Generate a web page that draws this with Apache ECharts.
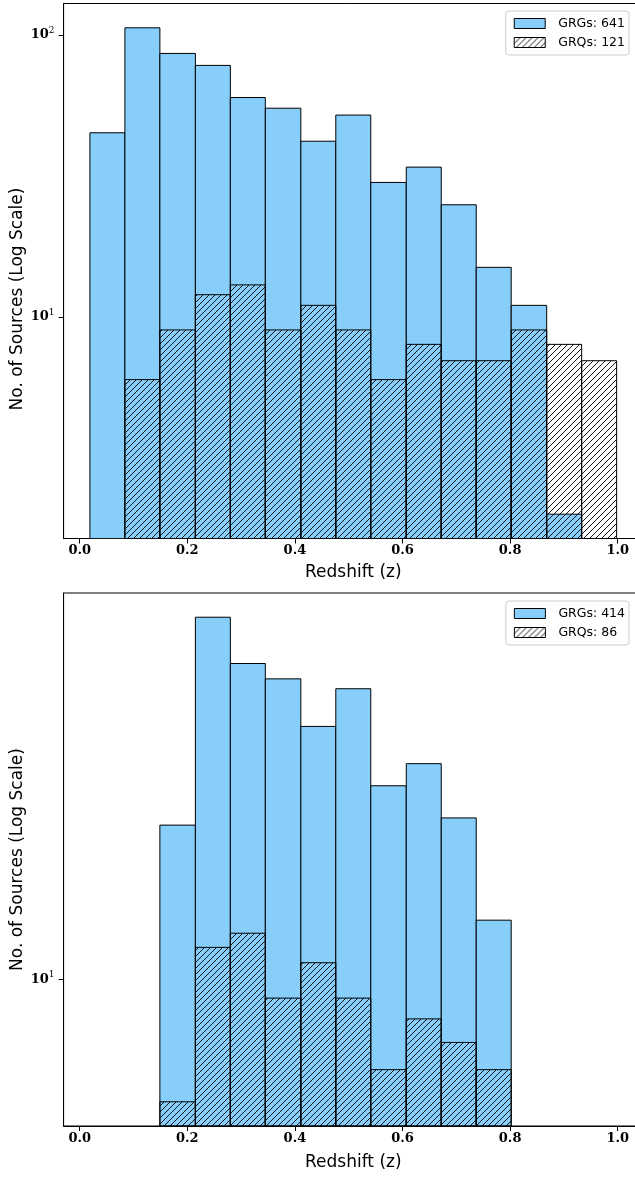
<!DOCTYPE html>
<html>
<head>
<meta charset="utf-8">
<script src="https://cdn.jsdelivr.net/npm/echarts@6/dist/echarts.min.js"></script>
<style>
  html, body { margin: 0; padding: 0; background: #fff; }
  #chart { width: 635px; height: 1178px; }
</style>
</head>
<body>
<div id="chart"></div>
<script>
// histogram bin edges (redshift)
const binEdges = [0.019, 0.084, 0.149, 0.215, 0.280, 0.345, 0.411, 0.476,
                  0.541, 0.607, 0.672, 0.737, 0.802, 0.868, 0.933, 0.998]
// top panel: full sample
const grgAll = [45, 106, 86, 78, 60, 55, 42, 52, 30, 34, 25, 15, 11, 2, 0]
const grqAll = [0, 6, 9, 12, 13, 9, 11, 9, 6, 8, 7, 7, 9, 8, 7]
// bottom panel: sub-sample
const grgSub = [0, 0, 24, 78, 60, 55, 42, 52, 30, 34, 25, 14, 0, 0, 0]
const grqSub = [0, 0, 5, 12, 13, 9, 11, 9, 6, 8, 7, 6, 0, 0, 0]

const xTicks = [0, 0.2, 0.4, 0.6, 0.8, 1.0]
const majorTicks = [1, 10, 100]
const minorTicks = [2, 3, 4, 5, 6, 7, 8, 9, 20, 30, 40, 50, 60, 70, 80, 90]

const legendTop = ['GRGs: 641', 'GRQs: 121']
const legendBottom = ['GRGs: 414', 'GRQs: 86']

const BLUE = '#87CEFA'
const SANS = 'DejaVu Sans'
const SERIF = 'DejaVu Serif'

function makeHatch() {
  const s = 6
  const c = document.createElement('canvas')
  c.width = s
  c.height = s
  const g = c.getContext('2d')
  g.strokeStyle = '#000'
  g.lineWidth = 0.9
  g.beginPath()
  g.moveTo(0, s); g.lineTo(s, 0)
  g.moveTo(-1, 1); g.lineTo(1, -1)
  g.moveTo(s - 1, s + 1); g.lineTo(s + 1, s - 1)
  g.stroke()
  return { image: c, repeat: 'repeat' }
}
const hatch = makeHatch()

// matplotlib-like 5% margins in log space
function logLimits(a, b) {
  const vals = a.concat(b).filter(v => v > 0)
  const lo = Math.log10(Math.min(...vals))
  const hi = Math.log10(Math.max(...vals))
  const m = (hi - lo) * 0.05
  return [Math.pow(10, lo - m), Math.pow(10, hi + m)]
}
const span = binEdges[binEdges.length - 1] - binEdges[0]
const xMin = binEdges[0] - span * 0.05
const xMax = binEdges[binEdges.length - 1] + span * 0.05

function binData(counts) {
  return counts.map((c, i) => [binEdges[i], binEdges[i + 1], c])
}

function histItem(yMin, fill) {
  return function (params, api) {
    const v = api.value(2)
    if (!v) return null
    const a = api.coord([api.value(0), v])
    const b = api.coord([api.value(1), yMin])
    return {
      type: 'rect',
      shape: { x: a[0], y: a[1], width: b[0] - a[0], height: b[1] - a[1] },
      style: { fill: fill, stroke: '#000', lineWidth: 1 }
    }
  }
}

const limTop = logLimits(grgAll, grqAll)
const limBottom = logLimits(grgSub, grqSub)

const grids = [
  { left: 63.6, top: 3.5, width: (xMax - xMin) * 538, height: 535 },
  { left: 63.6, top: 593, width: (xMax - xMin) * 538, height: 533 }
]

function xAxis(i) {
  return {
    type: 'value', gridIndex: i, min: xMin, max: xMax,
    name: 'Redshift (z)', nameLocation: 'middle', nameGap: i === 0 ? 26 : 28,
    nameTextStyle: { fontFamily: SANS, fontSize: 17, color: '#000' },
    axisLine: { onZero: false, lineStyle: { color: '#000', width: 1 } },
    axisTick: { customValues: xTicks, length: 5, lineStyle: { color: '#000' } },
    axisLabel: {
      customValues: xTicks, margin: 6,
      formatter: v => v.toFixed(1),
      fontFamily: SERIF, fontWeight: 'bold', fontSize: 13, color: '#000'
    },
    splitLine: { show: false }
  }
}

function yAxes(i, lim, shift) {
  return [{
    type: 'log', gridIndex: i, min: lim[0], max: lim[1],
    name: 'No. of Sources (Log Scale)', nameLocation: 'middle', nameGap: 38,
    nameMoveOverlap: false,
    nameTextStyle: { fontFamily: SANS, fontSize: 17, color: '#000', padding: [0, shift, 0, 0] },
    axisLine: { onZero: false, lineStyle: { color: '#000', width: 1 } },
    axisTick: { customValues: majorTicks, length: 5, lineStyle: { color: '#000' } },
    axisLabel: {
      customValues: majorTicks, margin: 9,
      formatter: v => '{m|10}{e|' + Math.round(Math.log10(v)) + '}',
      rich: {
        m: { fontFamily: SERIF, fontWeight: 'bold', fontSize: 13, color: '#000' },
        e: { fontFamily: SERIF, fontSize: 9, color: '#000', padding: [0, 0, 9, 0] }
      }
    },
    splitLine: { show: false }
  }, {
    type: 'log', gridIndex: i, min: lim[0], max: lim[1],
    axisLine: { show: false, onZero: false },
    axisTick: { customValues: minorTicks, length: 3, lineStyle: { color: '#000' } },
    axisLabel: { show: false },
    splitLine: { show: false }
  }]
}

function legend(names, top) {
  return {
    orient: 'vertical', right: 6, top: top,
    itemWidth: 31, itemHeight: 10, itemGap: 6,
    backgroundColor: '#fff', borderColor: '#ccc', borderWidth: 1, borderRadius: 3,
    padding: [6, 4, 6, 8],
    textStyle: { fontFamily: SANS, fontSize: 12.5, color: '#000', padding: [0, 0, 0, 8] },
    data: [
      { name: names[0], icon: 'rect', itemStyle: { color: BLUE, borderColor: '#000', borderWidth: 1 } },
      { name: names[1], icon: 'rect', itemStyle: { color: hatch, borderColor: '#000', borderWidth: 1 } }
    ]
  }
}

function series(i, name, counts, yMin, fill, z) {
  return {
    type: 'custom', name: name, xAxisIndex: i, yAxisIndex: i * 2,
    renderItem: histItem(yMin, fill), clip: true, z: z,
    itemStyle: { color: fill, borderColor: '#000', borderWidth: 1 },
    encode: { x: [0, 1], y: 2 },
    data: binData(counts)
  }
}

const chart = echarts.init(document.getElementById('chart'))
chart.setOption({
  animation: false,
  grid: grids.map(g => Object.assign({
    show: true, borderColor: '#000', borderWidth: 1,
    containLabel: false, outerBoundsMode: 'none'
  }, g)),
  xAxis: [xAxis(0), xAxis(1)],
  yAxis: yAxes(0, limTop, 56).concat(yAxes(1, limBottom, 0)),
  legend: [legend(legendTop, 11), legend(legendBottom, 601)],
  series: [
    series(0, legendTop[0], grgAll, limTop[0], BLUE, 2),
    series(0, legendTop[1], grqAll, limTop[0], hatch, 3),
    series(1, legendBottom[0], grgSub, limBottom[0], BLUE, 2),
    series(1, legendBottom[1], grqSub, limBottom[0], hatch, 3)
  ]
})
</script>
</body>
</html>
